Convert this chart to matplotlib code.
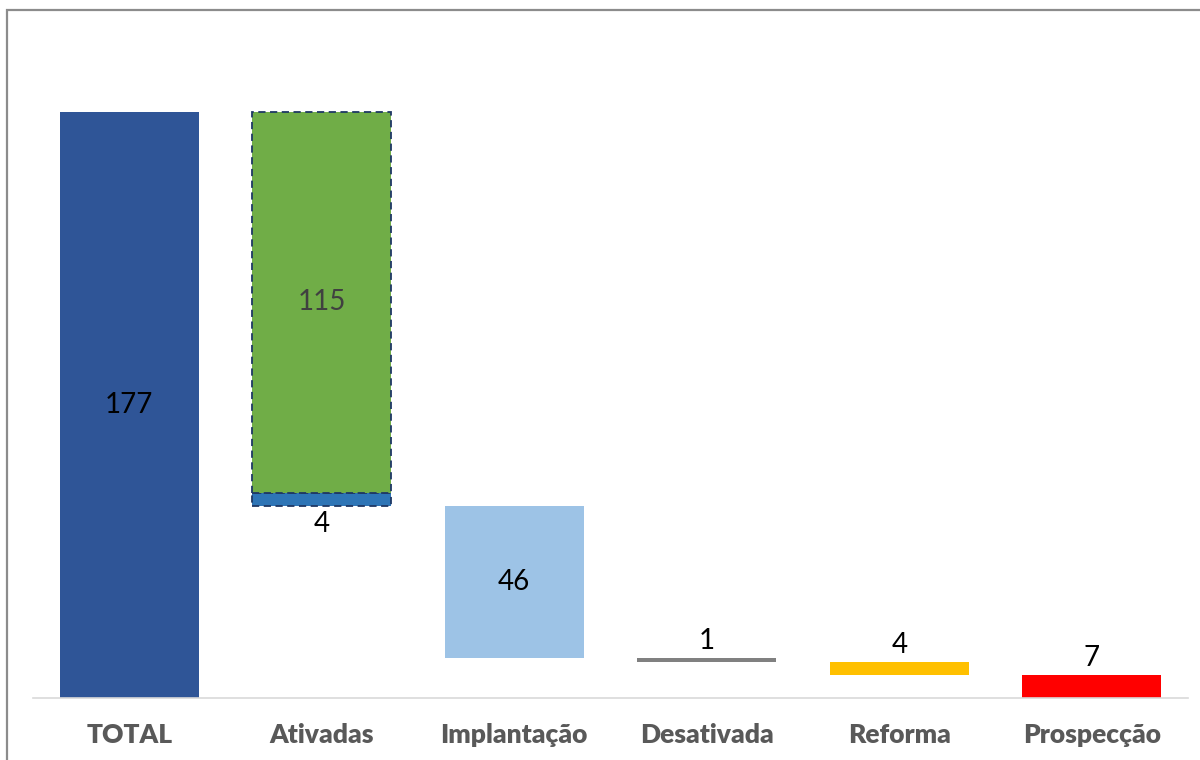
import matplotlib.pyplot as plt
import numpy as np
from matplotlib.patches import Rectangle

# Data
categories = ["TOTAL", "Ativadas", "Implantação", "Desativada", "Reforma", "Prospecção"]
total = 177
ativadas_parts = [4, 115]          # blue (bottom), green (top)
steps = [46, 1, 4, 7]              # Implantação, Desativada, Reforma, Prospecção

colors_steps = ["#9DC3E6", "#808080", "#FFC000", "#FF0000"]
C_TOTAL = "#2F5597"
C_ATIV = ["#2E75B6", "#70AD47"]
C_EDGE = "#1F3864"

plt.rcParams["font.family"] = ["Lato", "DejaVu Sans"]

fig = plt.figure(figsize=(12, 7.6), dpi=100)
ax = fig.add_axes([33 / 1200, 1 - 698 / 760, 1155 / 1200, 662 / 760])

x = np.arange(len(categories))
w = 0.72

# TOTAL
ax.bar(x[0], total, w, color=C_TOTAL)
ax.text(x[0], total / 2, str(total), ha="center", va="center", fontsize=20, color="black")

# Ativadas stacked, hanging from total
bottom = total - sum(ativadas_parts)
b = bottom
for val, col in zip(ativadas_parts, C_ATIV):
    ax.bar(x[1], val, w, bottom=b, color=col, edgecolor=C_EDGE,
           linewidth=1.3, linestyle=(0, (4, 2.5)))
    b += val
ax.text(x[1], bottom - 1.5, str(ativadas_parts[0]), ha="center", va="top",
        fontsize=20, color="black")
ax.text(x[1], bottom + ativadas_parts[0] + ativadas_parts[1] / 2, str(ativadas_parts[1]),
        ha="center", va="center", fontsize=20, color="#404040")

# remaining steps
level = bottom
for i, (val, col) in enumerate(zip(steps, colors_steps)):
    xi = x[i + 2]
    level -= val
    ax.bar(xi, val, w, bottom=level, color=col)
    if val >= 20:
        ax.text(xi, level + val / 2, str(val), ha="center", va="center",
                fontsize=20, color="black")
    else:
        ax.text(xi, level + val + 1.2, str(val), ha="center", va="bottom",
                fontsize=20, color="black")

ax.set_xlim(-0.5, 5.5)
ax.set_ylim(0, 200)
ax.set_yticks([])
ax.set_xticks(x)
ax.set_xticklabels(categories, fontsize=19, fontweight="heavy", color="#595959")
ax.tick_params(axis="x", length=0, pad=18)
for s in ["top", "right", "left"]:
    ax.spines[s].set_visible(False)
ax.spines["bottom"].set_color("#D9D9D9")
ax.spines["bottom"].set_linewidth(1.2)

# outer chart border (partly cropped)
fig.patches.append(Rectangle((7 / 1200, -0.2), 1.2, 1.2 - 10 / 760,
                             transform=fig.transFigure, fill=False,
                             edgecolor="#8C8C8C", linewidth=1.6))

fig.savefig("out.png", dpi=100)
